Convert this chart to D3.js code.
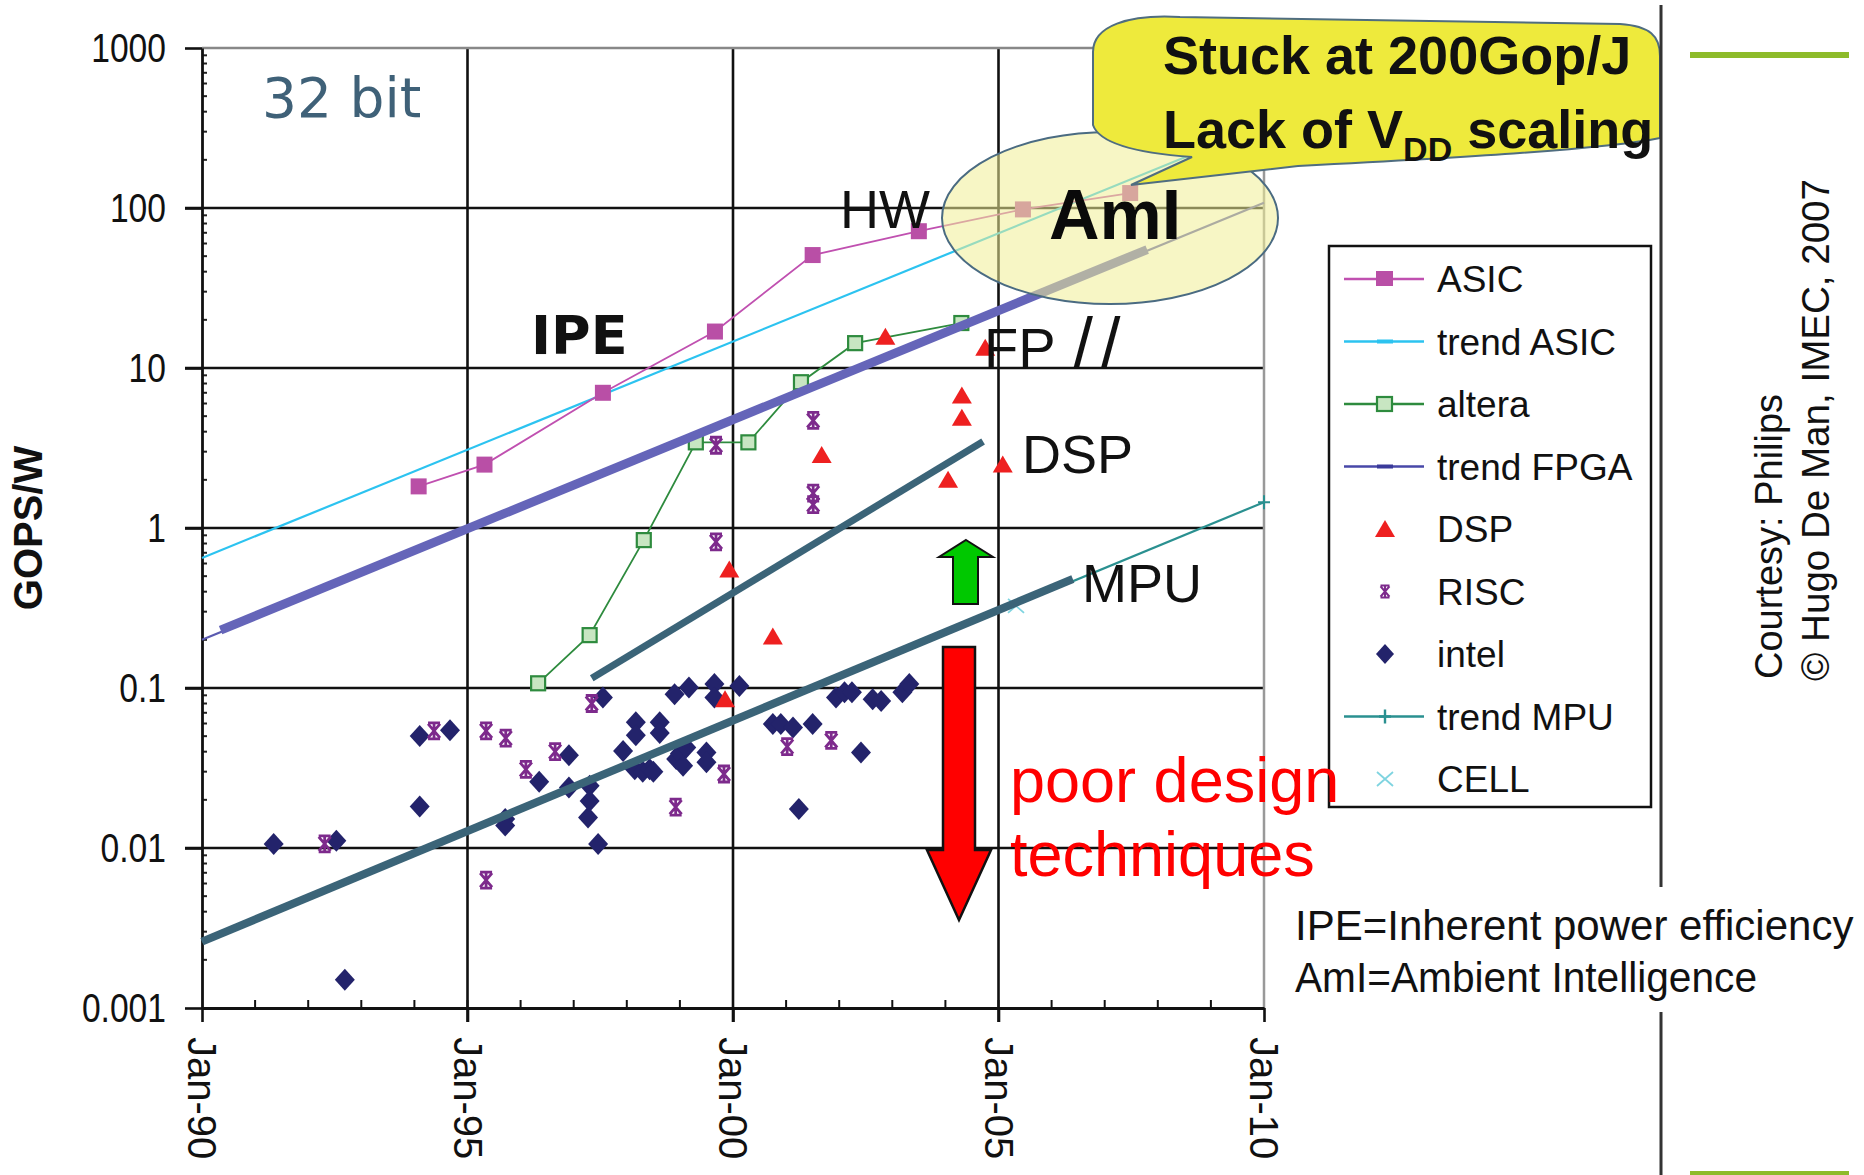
<!DOCTYPE html>
<html>
<head>
<meta charset="utf-8">
<script src="https://cdn.jsdelivr.net/npm/d3@7"></script>
<style>
  body { margin: 0; background: #fff; }
  svg { display: block; }
</style>
</head>
<body>
<script>
var swidth = 1864,
    sheight = 1175;

// axis ticks
var xTickYears = [1990, 1995, 2000, 2005, 2010];
var xTickLabels = ["Jan-90", "Jan-95", "Jan-00", "Jan-05", "Jan-10"];
var yTickValues = [0.001, 0.01, 0.1, 1, 10, 100, 1000];
var yTickLabels = ["0.001", "0.01", "0.1", "1", "10", "100", "1000"];

// series, [year, GOPS/W]
var asicData = [[1994.08, 1.82], [1995.32, 2.49], [1997.55, 7.0], [1999.66, 16.9],
  [2001.5, 50.8], [2003.5, 71.6], [2005.46, 98], [2007.48, 124]];
var alteraData = [[1996.33, 0.107], [1997.3, 0.214], [1998.32, 0.84], [1999.3, 3.43],
  [2000.29, 3.43], [2001.28, 8.15], [2002.3, 14.3], [2004.3, 19.1]];
var dspData = [[1999.85, 0.085], [1999.93, 0.55], [2000.75, 0.21], [2001.67, 2.86],
  [2002.87, 15.7], [2004.05, 2.0], [2004.31, 6.73], [2004.31, 4.89], [2004.75, 13.4], [2005.08, 2.49]];
var riscData = [[1992.31, 0.0106], [1994.37, 0.054], [1995.35, 0.054], [1995.35, 0.0063],
  [1995.72, 0.0486], [1996.1, 0.031], [1996.65, 0.040], [1997.34, 0.080], [1998.92, 0.018],
  [1999.68, 3.29], [1999.68, 0.82], [1999.83, 0.029], [2001.02, 0.043], [2001.85, 0.047],
  [2001.51, 4.7], [2001.51, 1.65], [2001.51, 1.40]];
var intelData = [[1991.35, 0.0106], [1992.53, 0.0111], [1992.69, 0.0015], [1994.1, 0.0502],
  [1994.1, 0.0182], [1994.67, 0.0545], [1995.71, 0.0152], [1995.71, 0.0138], [1996.35, 0.0259],
  [1996.91, 0.038], [1996.91, 0.0239], [1997.27, 0.0155], [1997.3, 0.0245], [1997.3, 0.0197],
  [1997.46, 0.0106], [1997.55, 0.0873], [1997.93, 0.0404], [1998.15, 0.0311], [1998.17, 0.061],
  [1998.17, 0.0507], [1998.3, 0.030], [1998.43, 0.0311], [1998.5, 0.030], [1998.62, 0.061],
  [1998.62, 0.0523], [1998.9, 0.0915], [1998.93, 0.036], [1999.0, 0.039], [1999.06, 0.0327],
  [1999.12, 0.0425], [1999.17, 0.1007], [1999.5, 0.0395], [1999.5, 0.0343], [1999.65, 0.106],
  [1999.65, 0.0873], [2000.12, 0.103], [2000.75, 0.0595], [2000.9, 0.0595], [2001.13, 0.0567],
  [2001.24, 0.0175], [2001.5, 0.0595], [2002.41, 0.0395], [2001.94, 0.0873], [2002.1, 0.094],
  [2002.24, 0.094], [2002.63, 0.085], [2002.79, 0.083], [2003.19, 0.094], [2003.32, 0.106]];
var cellData = [[2005.33, 0.326]];
var trendAsic = [[1990, 0.65], [2010, 330]];
var trendFpga = [[1990, 0.2], [2010, 108]];
var trendMpu = [[1990, 0.0026], [2010, 1.45]];

// hand drawn lines over the chart
var ipeLine = [[1990.35, 0.23], [2007.8, 55]];
var mpuLine = [[1990, 0.0026], [2006.4, 0.48]];
var dspLine = [[1997.34, 0.115], [2004.71, 3.47]];

var legendNames = ["ASIC", "trend ASIC", "altera", "trend FPGA", "DSP", "RISC", "intel", "trend MPU", "CELL"];

var sans = "'Liberation Sans', Arial, sans-serif";
var verdana = "'DejaVu Sans', Verdana, sans-serif";

var svg = d3.select("body").append("svg")
    .attr("width", swidth)
    .attr("height", sheight);

svg.append("rect").attr("width", swidth).attr("height", sheight).attr("fill", "#fff");

var x = d3.scaleLinear().domain([1990, 2010]).range([202, 1264]);
var y = d3.scaleLog().domain([0.001, 1000]).range([1008, 48]);

// grid
var grid = svg.append("g");
grid.selectAll(".hgrid")
  .data(yTickValues.slice(1, -1))
  .enter().append("line")
    .attr("x1", 185).attr("x2", x(2010))
    .attr("y1", function(d) { return y(d); })
    .attr("y2", function(d) { return y(d); })
    .attr("stroke", "#111").attr("stroke-width", 2.6);
grid.selectAll(".vgrid")
  .data(xTickYears.slice(1, -1))
  .enter().append("line")
    .attr("x1", function(d) { return x(d); })
    .attr("x2", function(d) { return x(d); })
    .attr("y1", y(1000)).attr("y2", 1022)
    .attr("stroke", "#111").attr("stroke-width", 2.6);
grid.append("line").attr("x1", x(1990)).attr("x2", x(2010)).attr("y1", y(1000)).attr("y2", y(1000))
  .attr("stroke", "#888").attr("stroke-width", 2.5);
grid.append("line").attr("x1", x(2010)).attr("x2", x(2010)).attr("y1", y(1000)).attr("y2", y(0.001))
  .attr("stroke", "#999").attr("stroke-width", 2.5);

// minor ticks
grid.selectAll(".ymin")
  .data(y.ticks().filter(function(d) { return yTickValues.indexOf(d) < 0; }))
  .enter().append("line")
    .attr("x1", x(1990)).attr("x2", x(1990) + 5)
    .attr("y1", function(d) { return y(d); })
    .attr("y2", function(d) { return y(d); })
    .attr("stroke", "#222").attr("stroke-width", 2);
grid.selectAll(".xmin")
  .data(d3.range(1991, 2010))
  .enter().append("line")
    .attr("x1", function(d) { return x(d); })
    .attr("x2", function(d) { return x(d); })
    .attr("y1", y(0.001)).attr("y2", y(0.001) - 8)
    .attr("stroke", "#111").attr("stroke-width", 2);

// axes
var yAxis = svg.append("g")
    .attr("transform", "translate(" + x(1990) + ",0)")
    .call(d3.axisLeft(y)
      .tickValues(yTickValues)
      .tickFormat(function(d, i) { return yTickLabels[i]; })
      .tickSize(17).tickSizeOuter(0).tickPadding(19));
yAxis.select(".domain").attr("stroke", "#111").attr("stroke-width", 2.8);
yAxis.selectAll(".tick line").attr("stroke", "#111").attr("stroke-width", 2.6);
// narrow, tall digits as in the original
yAxis.selectAll("text")
  .attr("font-family", sans).attr("font-size", 41).attr("fill", "#111")
  .attr("x", -36 / 0.82)
  .attr("transform", "scale(0.82,1)");

var xAxis = svg.append("g")
    .attr("transform", "translate(0," + y(0.001) + ")")
    .call(d3.axisBottom(x)
      .tickValues(xTickYears)
      .tickFormat(function(d, i) { return xTickLabels[i]; })
      .tickSize(14).tickSizeOuter(0));
xAxis.select(".domain").attr("stroke", "#111").attr("stroke-width", 2.8);
xAxis.selectAll(".tick line").attr("stroke", "#111").attr("stroke-width", 2.6);
xAxis.selectAll("text")
  .attr("font-family", sans).attr("font-size", 40).attr("fill", "#111")
  .attr("transform", "rotate(90)")
  .attr("x", 29).attr("y", 0).attr("dy", "0.36em")
  .attr("text-anchor", "start");

svg.append("text")
  .attr("transform", "translate(42,528) rotate(-90)")
  .attr("text-anchor", "middle")
  .attr("font-family", sans).attr("font-weight", "bold").attr("font-size", 40)
  .attr("fill", "#111")
  .text("GOPS/W");

// lines
var line = d3.line()
  .x(function(d) { return x(d[0]); })
  .y(function(d) { return y(d[1]); });

var plot = svg.append("g");
plot.append("path").datum(trendAsic).attr("d", line)
  .attr("fill", "none").attr("stroke", "#2cc3f0").attr("stroke-width", 2.2);
plot.append("path").datum(trendFpga).attr("d", line)
  .attr("fill", "none").attr("stroke", "#5a5ab0").attr("stroke-width", 2.2);
plot.append("path").datum(trendMpu).attr("d", line)
  .attr("fill", "none").attr("stroke", "#2a9090").attr("stroke-width", 2.2);
plot.append("path").datum(asicData).attr("d", line)
  .attr("fill", "none").attr("stroke", "#c050b0").attr("stroke-width", 1.8);
plot.append("path").datum(alteraData).attr("d", line)
  .attr("fill", "none").attr("stroke", "#2e8b3e").attr("stroke-width", 1.8);

var diamondPath = "M0,-11L10,0L0,11L-10,0Z",
    trianglePath = "M0,-9L10,8L-10,8Z",
    starPath = "M-6,-7L6,7M6,-7L-6,7M0,-8L0,8M-6,-8L6,-8M-6,8L6,8",
    crossPath = "M-8,-7L8,7M8,-7L-8,7",
    plusPath = "M0,-7L0,7M-6,0L6,0";

function pos(d) { return "translate(" + x(d[0]) + "," + y(d[1]) + ")"; }

plot.selectAll(".intel").data(intelData).enter().append("path")
  .attr("d", diamondPath).attr("transform", pos).attr("fill", "#23236b");
plot.selectAll(".risc").data(riscData).enter().append("path")
  .attr("d", starPath).attr("transform", pos)
  .attr("fill", "none").attr("stroke", "#7d2a8c").attr("stroke-width", 2.8);
plot.selectAll(".dsp").data(dspData).enter().append("path")
  .attr("d", trianglePath).attr("transform", pos).attr("fill", "#ee2020");
plot.selectAll(".cell").data(cellData).enter().append("path")
  .attr("d", crossPath).attr("transform", pos)
  .attr("fill", "none").attr("stroke", "#7fd4e0").attr("stroke-width", 1.8);
plot.selectAll(".asic").data(asicData).enter().append("rect")
  .attr("x", function(d) { return x(d[0]) - 8; })
  .attr("y", function(d) { return y(d[1]) - 8; })
  .attr("width", 16).attr("height", 16)
  .attr("fill", "#b94fa6");
plot.selectAll(".altera").data(alteraData).enter().append("rect")
  .attr("x", function(d) { return x(d[0]) - 7; })
  .attr("y", function(d) { return y(d[1]) - 7; })
  .attr("width", 14).attr("height", 14)
  .attr("fill", "#c8e6c2").attr("stroke", "#2e8b3e").attr("stroke-width", 2.2);
plot.selectAll(".tmpu").data(trendMpu.slice(1)).enter().append("path")
  .attr("d", plusPath).attr("transform", pos)
  .attr("fill", "none").attr("stroke", "#2a9090").attr("stroke-width", 2);

// drawn over lines
plot.append("path").datum(ipeLine).attr("d", line)
  .attr("fill", "none").attr("stroke", "#6565b9").attr("stroke-width", 9);
plot.append("path").datum(mpuLine).attr("d", line)
  .attr("fill", "none").attr("stroke", "#3b6478").attr("stroke-width", 8);
plot.append("path").datum(dspLine).attr("d", line)
  .attr("fill", "none").attr("stroke", "#3b6478").attr("stroke-width", 7);

// labels in the chart
var notes = svg.append("g").attr("font-family", sans).attr("fill", "#111");
notes.append("text").attr("x", 262).attr("y", 117)
  .attr("font-family", verdana).attr("font-size", 55).attr("fill", "#3f6178").text("32 bit");
notes.append("text").attr("x", 531).attr("y", 354)
  .attr("font-family", verdana).attr("font-weight", "bold").attr("font-size", 54).text("IPE");
notes.append("text").attr("x", 840).attr("y", 228).attr("font-size", 54).text("HW");
var fp = notes.append("text").attr("x", 984).attr("y", 367).attr("font-size", 56);
fp.append("tspan").text("FP");
fp.append("tspan").attr("dx", 18).attr("font-size", 70).attr("letter-spacing", 8).text("//");
notes.append("text").attr("x", 1022).attr("y", 473).attr("font-size", 54).text("DSP");
notes.append("text").attr("x", 1082).attr("y", 602).attr("font-size", 54).text("MPU");

// AmI ellipse and callout
svg.append("ellipse")
  .attr("cx", 1110).attr("cy", 218).attr("rx", 168).attr("ry", 86)
  .attr("fill", "rgb(240,238,150)").attr("fill-opacity", 0.55)
  .attr("stroke", "#4a6b82").attr("stroke-width", 2);
svg.append("text").attr("x", 1049).attr("y", 239)
  .attr("font-family", sans).attr("font-weight", "bold").attr("font-size", 70)
  .attr("fill", "#0a0a0a").text("AmI");

svg.append("path")
  .attr("d", "M1093,52 C1093,26 1128,14 1180,17 L1620,24 C1650,26 1660,36 1660,56 L1660,138 " +
    "C1600,150 1450,158 1298,166 L1131,185 L1192,157 C1150,154 1100,146 1093,125 Z")
  .attr("fill", "#eeea3c").attr("stroke", "#4f6d80").attr("stroke-width", 2);
var callout = svg.append("g").attr("font-family", sans).attr("font-weight", "bold").attr("fill", "#111");
callout.append("text").attr("x", 1163).attr("y", 74).attr("font-size", 54).text("Stuck at 200Gop/J");
var lack = callout.append("text").attr("x", 1163).attr("y", 148).attr("font-size", 54);
lack.append("tspan").text("Lack of V");
lack.append("tspan").attr("font-size", 34).attr("dy", 13).text("DD");
lack.append("tspan").attr("dy", -13).text(" scaling");

// arrows
svg.append("path")
  .attr("d", "M966,540 L993,557 L978,557 L978,604 L953,604 L953,557 L939,557 Z")
  .attr("fill", "#00c800").attr("stroke", "#111").attr("stroke-width", 2);
svg.append("path")
  .attr("d", "M943,647 L975,647 L975,850 L991,850 L959,920 L927,850 L943,850 Z")
  .attr("fill", "#ff0000").attr("stroke", "#111").attr("stroke-width", 2.5);

// legend
var legend = svg.append("g");
legend.append("rect").attr("x", 1329).attr("y", 246).attr("width", 322).attr("height", 561)
  .attr("fill", "#fff").attr("stroke", "#111").attr("stroke-width", 2.5);
var item = legend.selectAll(".item").data(legendNames).enter().append("g")
  .attr("transform", function(d, i) { return "translate(1385," + (279 + i * 62.5) + ")"; });
item.append("text").attr("x", 52).attr("y", 13)
  .attr("font-family", sans).attr("font-size", 37).attr("fill", "#111")
  .text(function(d) { return d; });

function legendLine(i, color) {
  d3.select(item.nodes()[i]).append("line")
    .attr("x1", -41).attr("x2", 39).attr("stroke", color).attr("stroke-width", 2.5);
}
legendLine(0, "#c050b0");
legendLine(1, "#2cc3f0");
legendLine(2, "#2e8b3e");
legendLine(3, "#4848a8");
legendLine(7, "#2a9090");
d3.select(item.nodes()[0]).append("rect").attr("x", -9).attr("y", -8).attr("width", 17).attr("height", 15).attr("fill", "#b94fa6");
d3.select(item.nodes()[1]).append("rect").attr("x", -8).attr("y", -2).attr("width", 16).attr("height", 4).attr("fill", "#2cc3f0");
d3.select(item.nodes()[2]).append("rect").attr("x", -8).attr("y", -7).attr("width", 15).attr("height", 14)
  .attr("fill", "#c8e6c2").attr("stroke", "#2e8b3e").attr("stroke-width", 2.2);
d3.select(item.nodes()[3]).append("rect").attr("x", -8).attr("y", -2).attr("width", 16).attr("height", 4).attr("fill", "#3a3a9a");
d3.select(item.nodes()[4]).append("path").attr("d", trianglePath).attr("fill", "#ee2020");
d3.select(item.nodes()[5]).append("path").attr("d", starPath).attr("transform", "scale(0.75)")
  .attr("fill", "none").attr("stroke", "#7d2a8c").attr("stroke-width", 2.6);
d3.select(item.nodes()[6]).append("path").attr("d", diamondPath).attr("transform", "scale(0.9)").attr("fill", "#23236b");
d3.select(item.nodes()[7]).append("path").attr("d", plusPath).attr("fill", "none").attr("stroke", "#2a9090").attr("stroke-width", 2.4);
d3.select(item.nodes()[8]).append("path").attr("d", crossPath).attr("fill", "none").attr("stroke", "#7fd4e0").attr("stroke-width", 1.8);

// red note
var poor = svg.append("g").attr("font-family", sans).attr("font-size", 63).attr("fill", "#ff0000");
poor.append("text").attr("x", 1010).attr("y", 802).text("poor design");
poor.append("text").attr("x", 1010).attr("y", 876).text("techniques");

// slide frame on the right
svg.append("line").attr("x1", 1661).attr("x2", 1661).attr("y1", 5).attr("y2", sheight)
  .attr("stroke", "#333").attr("stroke-width", 3);
svg.append("rect").attr("x", 1690).attr("y", 52).attr("width", 159).attr("height", 6).attr("fill", "#8dbb2a");
svg.append("rect").attr("x", 1690).attr("y", 1171).attr("width", 159).attr("height", 6).attr("fill", "#8dbb2a");
svg.append("rect").attr("x", 1268).attr("y", 887).attr("width", 596).attr("height", 125).attr("fill", "#fff");

var credit = svg.append("g").attr("font-family", sans).attr("font-size", 38).attr("fill", "#111");
credit.append("text").attr("transform", "translate(1782,679) rotate(-90)").text("Courtesy: Philips");
credit.append("text").attr("transform", "translate(1829,681) rotate(-90)")
  .attr("textLength", 502).attr("lengthAdjust", "spacingAndGlyphs")
  .text("\u00a9 Hugo De Man, IMEC, 2007");

var gloss = svg.append("g").attr("font-family", sans).attr("font-size", 42).attr("fill", "#111");
gloss.append("text").attr("x", 1295).attr("y", 940).text("IPE=Inherent power efficiency");
gloss.append("text").attr("x", 1295).attr("y", 992)
  .attr("textLength", 462).attr("lengthAdjust", "spacingAndGlyphs")
  .text("AmI=Ambient Intelligence");
</script>
</body>
</html>
